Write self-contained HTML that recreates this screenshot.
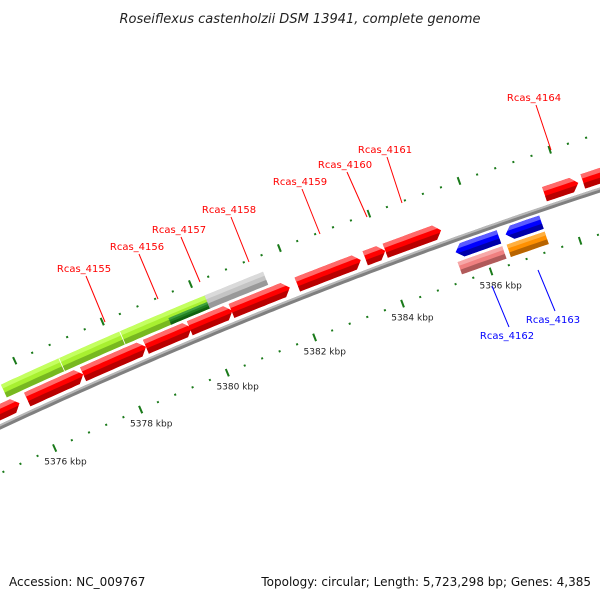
<!DOCTYPE html>
<html><head><meta charset="utf-8"><style>
body{margin:0;background:#fff}
svg{display:block;font-family:"DejaVu Sans","Liberation Sans",sans-serif}
</style></head><body>
<svg id="c" width="600" height="600" viewBox="0 0 600 600">
<defs id="defs"></defs>
<text x="300" y="23" text-anchor="middle" font-size="13" font-style="italic" fill="#222">Roseiflexus castenholzii DSM 13941, complete genome</text>
<g id="track"></g>
<g id="labels"></g>
<text x="9" y="586" font-size="12" fill="#111">Accession: NC_009767</text>
<text x="591" y="586" font-size="12" fill="#111" text-anchor="end">Topology: circular; Length: 5,723,298 bp; Genes: 4,385</text>
</svg>
<script>
const fwdStarts=[5374.9,5375.9,5377.19,5378.63,5379.63,5380.58,5382.07,5383.6,5384.05,5387.6,5388.45];
const fwdEnds=[5375.72,5377.19,5378.63,5379.67,5380.6,5381.9,5383.5,5384.05,5385.3,5388.35,5389.5];
const rnaStarts=[5375.53,5376.86,5378.25];
const rnaEnds=[5376.86,5378.25,5380.2];
const revBlueStarts=[5385.43,5386.55];
const revBlueEnds=[5386.4,5387.35];
const revRow2Starts=[5385.4,5386.5];
const revRow2Ends=[5386.4,5387.35];
const tickLabels=[5376,5378,5380,5382,5384,5386];
const NS='http://www.w3.org/2000/svg';
const tr=document.getElementById('track'), lb=document.getElementById('labels'), defs=document.getElementById('defs');
// circle through backbone points
const ax=0,ay=427,bx=300,by=298,cx0=600,cy0=190;
const d=2*(ax*(by-cy0)+bx*(cy0-ay)+cx0*(ay-by));
const CX=((ax*ax+ay*ay)*(by-cy0)+(bx*bx+by*by)*(cy0-ay)+(cx0*cx0+cy0*cy0)*(ay-by))/d;
const CY=((ax*ax+ay*ay)*(cx0-bx)+(bx*bx+by*by)*(ax-cx0)+(cx0*cx0+cy0*cy0)*(bx-ax))/d;
const R=Math.hypot(ax-CX,ay-CY);
const f1=Math.atan2(415-CY,143-CX), f2=Math.atan2(277-CY,493-CX);
const DF=(f2-f1)/8;
function P(k,v){const f=f1+(k-5378)*DF;return [CX+(R-v)*Math.cos(f),CY+(R-v)*Math.sin(f)];}
const PXK=Math.abs(DF)*R;
function mk(tag,at,par){const e=document.createElementNS(NS,tag);for(const k in at)e.setAttribute(k,at[k]);par.appendChild(e);return e;}
function band(k1,k2,v1,v2){const pts=[];const n=Math.max(2,Math.ceil((k2-k1)/0.1));
  for(let i=0;i<=n;i++)pts.push(P(k1+(k2-k1)*i/n,v1));
  for(let i=n;i>=0;i--)pts.push(P(k1+(k2-k1)*i/n,v2));return pts;}
function ptsStr(p){return p.map(q=>q[0].toFixed(1)+','+q[1].toFixed(1)).join(' ');}
// backbone
let b=mk('polygon',{points:ptsStr(band(5373,5392,-2.5,2.5)),fill:'#808080'},tr);

mk('polygon',{points:ptsStr(band(5373,5392,-2.5,-0.5)),fill:'#b8b8b8'},tr);
// rulers
const dk=1/PXK;
for(let i=0;i<50;i++){const kk=Math.round((5373.2+i*0.4)*10)/10;
  const major=Math.abs(kk/2-Math.round(kk/2))<0.01;
  for(const v of [42,-54]){
    const r=mk('polygon',{points:ptsStr(band(kk-dk,kk+dk,major?v-4:v-1,major?v+4:v+1)),fill:'#1a7a1a'},tr);
    
    
  }
}
tickLabels.forEach(t=>{const p=P(t,56);
  const e=mk('text',{x:p[0]+5,y:p[1]+4,'font-size':9,fill:'#222','text-anchor':'middle'},lb);
  e.textContent=t+' kbp';
  });
let gid=0;
function gene(s,e,v1,v2,dir,cols,name){
  const h=Math.min(7/PXK,(e-s)/2),m=(v1+v2)/2;let pts;
  if(dir>0)pts=band(s,e-h,v1,v2).slice(0,0).concat(band(s,e-h,v1,v2)),pts=(function(){const t=band(s,e-h,v1,v2);const n=t.length/2;return t.slice(0,n).concat([P(e,m)],t.slice(n));})();
  else if(dir<0){const t=band(s+h,e,v1,v2);const n=t.length/2;pts=t.slice(0,n).concat(t.slice(n),[P(s,m)]);}
  else pts=band(s,e,v1,v2);
  const id='cl'+(gid++);const cp=mk('clipPath',{id:id},defs);mk('polygon',{points:ptsStr(pts)},cp);
  const g=mk('g',{'clip-path':'url(#'+id+')'},tr);
  
  const H=v2-v1;
  mk('polygon',{points:ptsStr(band(s-0.2,e+0.2,v1-1,v2+1)),fill:cols[1]},g);
  mk('polygon',{points:ptsStr(band(s-0.2,e+0.2,v1-1,v1+0.3*H)),fill:cols[0]},g);
  mk('polygon',{points:ptsStr(band(s-0.2,e+0.2,v1+0.62*H,v2+1)),fill:cols[2]},g);
}
const RED=['#ff6a6a','#ff0000','#b80000'],BLUE=['#5a5aff','#0000ff','#0000a8'],PINK=['#f7a8a8','#f08080','#b05a5a'],
ORANGE=['#ffb040','#ff9000','#b86400'],GREEN=['#c4ff60','#a8f030','#78b820'],DKG=['#40a040','#208020','#106010'],GREY=['#dadada','#c4c4c4','#999999'];
fwdStarts.forEach((s,i)=>gene(s,fwdEnds[i],-21,-6,1,RED,'forward-gene'));
rnaStarts.forEach((s,i)=>gene(s,rnaEnds[i],-38,-24,0,GREEN,'rna-feature'));
rnaStarts.slice(1).forEach(s=>{const l=mk('polygon',{points:ptsStr(band(s-0.4/PXK,s+0.4/PXK,-38,-24)),fill:'#fff'},tr);
  });
gene(5379.3,5380.2,-31,-24,0,DKG,'overlap-feature');
gene(5380.18,5381.5,-38,-24,0,GREY,'grey-feature');
revBlueStarts.forEach((s,i)=>gene(s,revBlueEnds[i],5,19,-1,BLUE,'reverse-gene'));
gene(revRow2Starts[0],revRow2Ends[0],22,35,0,PINK,'reverse-gene-pink');
gene(revRow2Starts[1],revRow2Ends[1],22,35,0,ORANGE,'reverse-gene-orange');
const labs=[['Rcas_4155',84,272,105,322,'red'],['Rcas_4156',137,250,158,299,'red'],['Rcas_4157',179,233,200,282,'red'],
['Rcas_4158',229,213,249,262,'red'],['Rcas_4159',300,185,320,234,'red'],['Rcas_4160',345,168,367,217,'red'],
['Rcas_4161',385,153,402,203,'red'],['Rcas_4164',534,101,551,150,'red'],['Rcas_4162',507,339,492,286,'blue'],['Rcas_4163',553,323,538,270,'blue']];
labs.forEach(l=>{const c=l[5]==='red'?'#f00':'#00f';
  const ln=mk('line',{x1:l[1]+2,y1:l[5]==='red'?l[2]+4:l[2]-12,x2:l[3],y2:l[4],stroke:c,'stroke-width':1},lb);
  
  const t=mk('text',{x:l[1],y:l[2],'font-size':10,fill:c,'text-anchor':'middle'},lb);t.textContent=l[0];
  });
</script>
</body></html>
